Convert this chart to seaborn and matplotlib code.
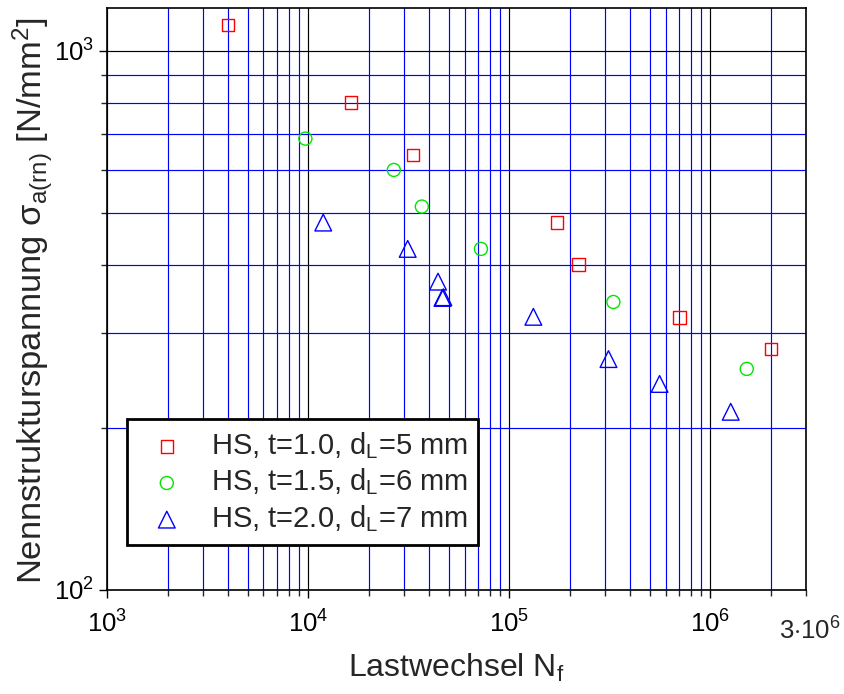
from matplotlib import pyplot as plt
from matplotlib import ticker
import numpy as np
import pandas as pd
import seaborn as sns

# --------------------------------------------------------
# Data
# --------------------------------------------------------
n_t10 = [4000, 16300, 33200, 173000, 221000, 705000, 2.0e6]
s_t10 = [1117, 801, 641, 480, 401, 320, 280]

n_t15 = [9700, 26700, 36800, 72400, 330000, 1.52e6]
s_t15 = [687, 601, 514, 429, 342, 257]

n_t20 = [11900, 31300, 44300, 46600, 47100, 132000, 312000, 560000, 1.265e6]
s_t20 = [480, 429, 373, 348, 349, 321, 268, 241, 214]

labels = ["HS, t=1.0, d$_\\mathregular{L}$=5 mm",
          "HS, t=1.5, d$_\\mathregular{L}$=6 mm",
          "HS, t=2.0, d$_\\mathregular{L}$=7 mm"]

x_ticks = [1e3, 1e4, 1e5, 1e6]

# --------------------------------------------------------
# Style
# --------------------------------------------------------
sns.set_style("white")
plt.rcParams['font.family'] = ['Liberation Sans', 'DejaVu Sans']
plt.rcParams['mathtext.fontset'] = 'custom'
plt.rcParams['mathtext.rm'] = 'Liberation Sans'
plt.rcParams['mathtext.it'] = 'Liberation Sans'
plt.rcParams['mathtext.bf'] = 'Liberation Sans'

fig = plt.figure(figsize=(8.45, 6.94), dpi=100)
ax = fig.add_axes([0.1266, 0.1499, 0.8274, 0.8386])

ax.set_xscale('log')
ax.set_yscale('log')
ax.set_xlim(1e3, 3e6)
ax.set_ylim(1e2, 1200)

# grid: minor blue, major black
ax.xaxis.set_minor_locator(ticker.LogLocator(base=10, subs=np.arange(2, 10)))
ax.yaxis.set_minor_locator(ticker.LogLocator(base=10, subs=np.arange(2, 10)))
ax.grid(which='minor', color='#0000ff', linewidth=0.85)
ax.grid(which='major', color='black', linewidth=0.85)
ax.set_axisbelow(True)

# --------------------------------------------------------
# Scatter
# --------------------------------------------------------
series = [
    (n_t10, s_t10, 's', '#ff0000', 80),
    (n_t15, s_t15, 'o', '#00e600', 88),
    (n_t20, s_t20, '^', '#0000ff', 145),
]

for (xs, ys, m, c, size), lab in zip(series, labels):
    df = pd.DataFrame({'N': xs, 'S': ys})
    sns.scatterplot(data=df, x='N', y='S', marker=m, s=size,
                    facecolor='none', edgecolor=c, linewidth=1.0,
                    ax=ax, label=lab, zorder=3)

# --------------------------------------------------------
# Axes / ticks / labels
# --------------------------------------------------------
ax.set_xticks(x_ticks)
ax.xaxis.set_major_formatter(ticker.LogFormatterMathtext())
ax.xaxis.set_minor_formatter(ticker.NullFormatter())
ax.yaxis.set_major_formatter(ticker.LogFormatterMathtext())
ax.yaxis.set_minor_formatter(ticker.NullFormatter())

ax.tick_params(which='major', direction='out', length=6, width=1,
               labelsize=18.5, colors='black', bottom=True, left=True,
               right=False, pad=3)
ax.tick_params(which='minor', direction='out', length=4, width=1,
               bottom=True, left=True, right=False)
ax.tick_params(axis='x', which='major', pad=9)

ax.annotate("3$\\cdot$10$^6$", xy=(3e6, 0), xycoords=('data', 'axes fraction'),
            xytext=(3, -20), textcoords='offset points',
            ha='center', va='top', fontsize=18.5)

for sp in ax.spines.values():
    sp.set_color('black')
    sp.set_linewidth(1.2)

ax.set_xlabel("Lastwechsel N$_\\mathregular{f}$", fontsize=23)
ax.xaxis.set_label_coords(0.5, -0.107)
ax.set_ylabel("Nennstrukturspannung σ$_\\mathregular{a(rn)}$ [N/mm$^\\mathregular{2}$]",
              fontsize=24.8)
ax.yaxis.set_label_coords(-0.073, 0.4966)

leg = ax.legend(loc='lower left', bbox_to_anchor=(0.028, 0.077),
                borderaxespad=0, fontsize=21, frameon=True, fancybox=False,
                edgecolor='black', handletextpad=0.5, borderpad=0.38,
                labelspacing=0.2, handlelength=2.0)
leg.get_frame().set_linewidth(2)
leg.get_frame().set_alpha(1)

fig.savefig("out.png", dpi=100)
